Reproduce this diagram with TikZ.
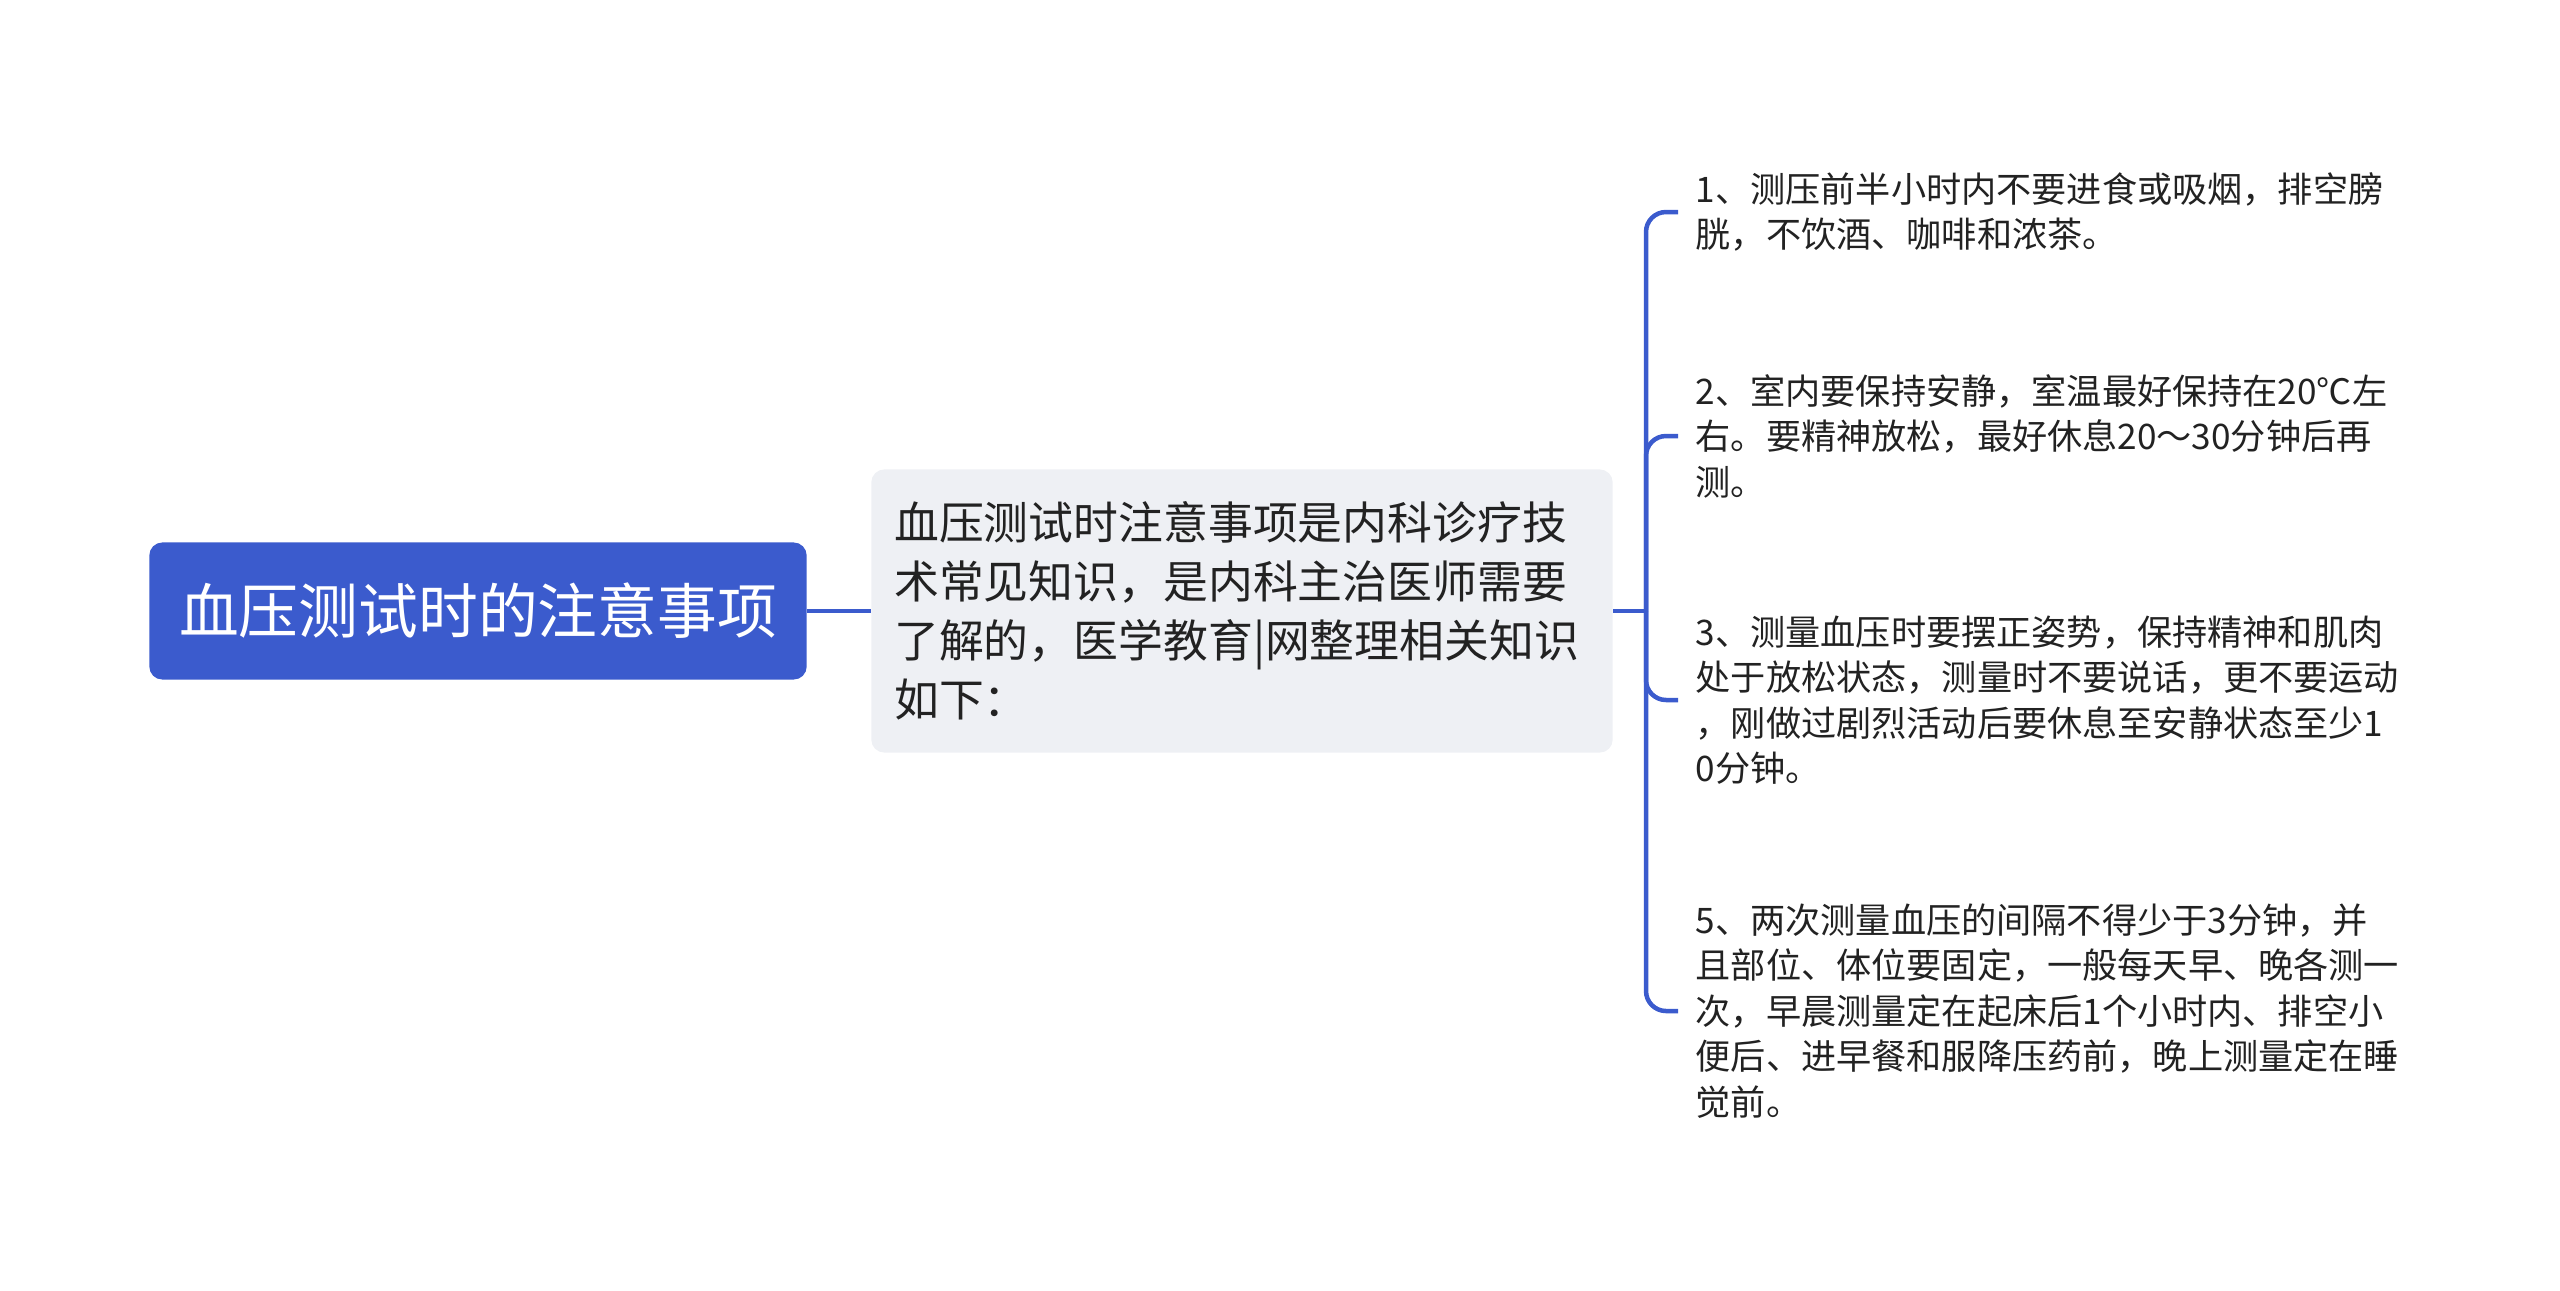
\documentclass[tikz,border=0pt]{standalone}
\usepackage{fontspec}
\setmainfont{Noto Sans CJK SC}
\definecolor{rootblue}{RGB}{59,91,205}
\definecolor{introgray}{RGB}{238,240,244}
\definecolor{tiptext}{RGB}{34,34,34}

\tikzset{
  rootnode/.style = {shape=rectangle, rounded corners=0.13cm,
                     fill=rootblue, text=white, inner sep=0pt,
                     minimum width=6.57cm, minimum height=1.37cm,
                     font=\fontsize{17pt}{20pt}\selectfont},
  introbox/.style = {shape=rectangle, rounded corners=0.13cm,
                     fill=introgray, text=tiptext, align=left,
                     inner xsep=0.23cm, inner ysep=0pt,
                     text width=6.95cm, minimum height=2.83cm,
                     font=\fontsize{12.75pt}{16.8pt}\selectfont},
  tipnode/.style  = {anchor=west, align=left, text=tiptext,
                     inner xsep=0.17cm, inner ysep=0pt, text width=7.7cm,
                     font=\fontsize{10pt}{12.95pt}\selectfont},
  link/.style     = {draw=rootblue, line width=0.045cm},
  branchlink/.style = {link, rounded corners=0.2cm}
}

\begin{document}
\begin{tikzpicture}[x=0.01cm, y=-0.01cm]
  \useasboundingbox (0,0) rectangle (2560,1290);

  \node [rootnode] (root) at (478,611) {血压测试时的注意事项};
  \node [introbox] (intro) at (1242,611)
    {血压测试时注意事项是内科诊疗技\\术常见知识，是内科主治医师需要\\了解的，医学教育|网整理相关知识\\如下：};

  \node [tipnode] (tip1) at (1678,212)
    {1、测压前半小时内不要进食或吸烟，排空膀\\胱，不饮酒、咖啡和浓茶。};
  \node [tipnode] (tip2) at (1678,436)
    {2、室内要保持安静，室温最好保持在20℃左\\右。要精神放松，最好休息20～30分钟后再\\测。};
  \node [tipnode] (tip3) at (1678,700)
    {3、测量血压时要摆正姿势，保持精神和肌肉\\处于放松状态，测量时不要说话，更不要运动\\，刚做过剧烈活动后要休息至安静状态至少1\\0分钟。};
  \node [tipnode] (tip5) at (1678,1011)
    {5、两次测量血压的间隔不得少于3分钟，并\\且部位、体位要固定，一般每天早、晚各测一\\次，早晨测量定在起床后1个小时内、排空小\\便后、进早餐和服降压药前，晚上测量定在睡\\觉前。};

  \coordinate (trunk) at (1646,611);

  \draw [link] (root.east) -- (intro.west);
  \draw [link] (intro.east) -- (trunk);
  \foreach \tip in {tip1,tip2,tip3,tip5}
    \draw [branchlink] (trunk) |- (\tip.west);
\end{tikzpicture}
\end{document}
